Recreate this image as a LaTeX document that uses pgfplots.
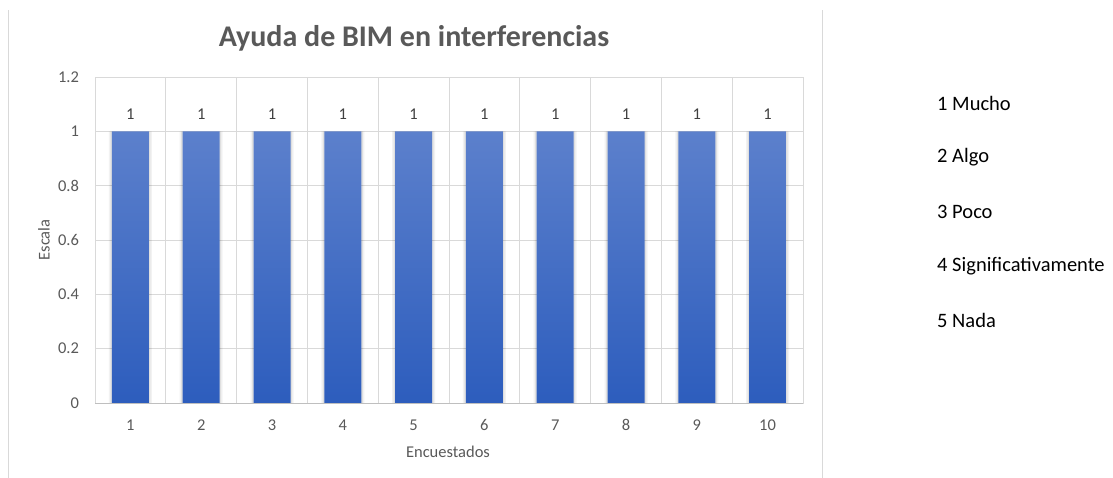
\documentclass[border=0pt]{standalone}
\usepackage{pgfplots}
\usepackage{pgfplotstable}
\pgfplotsset{compat=1.18}
\usepackage{fontspec}
\setmainfont{Carlito}

\definecolor{gridgray}{HTML}{D9D9D9}
\definecolor{axisgray}{HTML}{BFBFBF}
\definecolor{ticktext}{HTML}{595959}
\definecolor{labeltext}{HTML}{404040}
\definecolor{bartop}{HTML}{5C80CC}
\definecolor{barbottom}{HTML}{2D5DBD}

% Respuestas por encuestado (escala 1-5)
\pgfplotstableread{
enc escala
1 1
2 1
3 1
4 1
5 1
6 1
7 1
8 1
9 1
10 1
}\respuestas

\begin{document}
\begin{tikzpicture}[x=1pt,y=1pt]
\useasboundingbox (0,0) rectangle (1113,478);
\draw[gridgray, line width=0.8pt] (8,0) -- (8,468);
\draw[gridgray, line width=0.8pt] (822,0) -- (822,468);

\begin{axis}[
  at={(95pt,75pt)}, anchor=south west,
  scale only axis, width=708pt, height=326pt,
  xmin=0.5, xmax=10.5, ymin=0, ymax=1.2,
  ybar, bar width=37pt,
  xtick={1,...,10},
  minor xtick={1.5,2.5,3.5,4.5,5.5,6.5,7.5,8.5,9.5},
  ytick={0,0.2,0.4,0.6,0.8,1,1.2},
  yticklabels={0,0.2,0.4,0.6,0.8,1,1.2},
  xminorgrids, ymajorgrids,
  major tick length=0pt, minor tick length=0pt,
  axis line style={gridgray, line width=0.8pt},
  grid style={gridgray, line width=0.8pt},
  minor grid style={gridgray, line width=0.8pt},
  /pgf/number format/assume math mode=true,
  tick label style={font=\fontsize{16.5}{19}\selectfont, text=ticktext},
  xticklabel style={yshift=-13pt},
  yticklabel style={xshift=-12.5pt},
  nodes near coords,
  every node near coord/.append style={font=\fontsize{16.5}{19}\selectfont, text=labeltext, yshift=8.5pt},
  clip=false,
]
% sombra suave de las barras
\addplot[bar shift=0pt, bar width=43pt, fill=black, fill opacity=0.05, draw=none, nodes near coords=\empty] table[x=enc, y=escala] {\respuestas};
\addplot[bar shift=0pt, bar width=40pt, fill=black, fill opacity=0.08, draw=none, nodes near coords=\empty] table[x=enc, y=escala] {\respuestas};
% barras
\addplot[bar shift=0pt, draw=none, top color=bartop, bottom color=barbottom] table[x=enc, y=escala] {\respuestas};
\draw[axisgray, line width=0.8pt] (axis cs:0.5,0) -- (axis cs:10.5,0);
\end{axis}

\node[font=\bfseries\fontsize{30}{34}\selectfont, text=ticktext] at (414,440) {Ayuda de BIM en interferencias};
\node[font=\fontsize{16.5}{19}\selectfont, text=ticktext, rotate=90] at (44,238) {Escala};
\node[font=\fontsize{16.5}{19}\selectfont, text=ticktext] at (448,26) {Encuestados};

\begin{scope}[every node/.style={anchor=west, inner sep=0pt, font=\fontsize{20.5}{24}\selectfont}]
\node at (937,375) {1 Mucho};
\node at (937,321) {2 Algo};
\node at (937,266) {3 Poco};
\node at (937,212) {4 Significativamente};
\node at (937,158) {5 Nada};
\end{scope}
\end{tikzpicture}
\end{document}
